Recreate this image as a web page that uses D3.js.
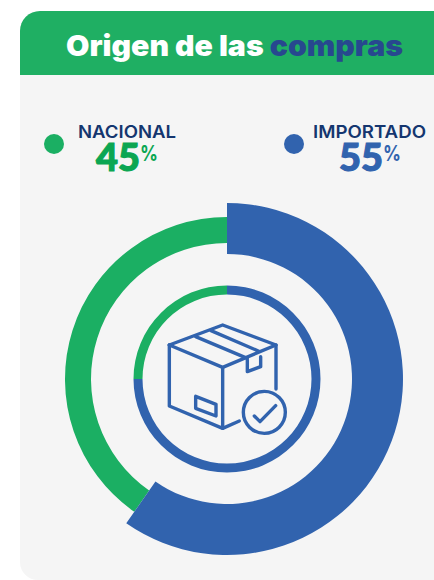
<!DOCTYPE html>
<html><head><meta charset="utf-8">
<script src="https://cdn.jsdelivr.net/npm/d3@7"></script>
<style>html,body{margin:0;padding:0;background:#fff}svg{display:block}text{font-family:Inter,"Open Sans",sans-serif}</style>
</head><body><div id="c"></div>
<script>
const categories = ["NACIONAL","IMPORTADO"];
const labelValues = [45,55];
const outerShares = [40.3,59.7];
const innerShares = [25,75];
const colors = ["#1BAF63","#3163AE"];
const labelColors = ["#0BA652","#3163AE"];

const svg = d3.select("#c").append("svg").attr("width",434).attr("height",580);
const card = d3.path();
card.moveTo(20,31);card.arcTo(20,11,40,11,20);card.lineTo(434,11);card.lineTo(434,580);card.lineTo(38,580);card.arcTo(20,580,20,562,18);card.closePath();
svg.append("path").attr("d",card.toString()).attr("fill","#F5F5F5");
const head = d3.path();
head.moveTo(20,75);head.lineTo(20,31);head.arcTo(20,11,40,11,20);head.lineTo(434,11);head.lineTo(434,75);head.closePath();
svg.append("path").attr("d",head.toString()).attr("fill","#1FAF63");

const title = svg.append("text").attr("x",66).attr("y",56).attr("font-size",29).attr("font-weight",900).attr("textLength",337).attr("lengthAdjust","spacingAndGlyphs");
title.append("tspan").attr("fill","#fff").text("Origen de las ");
title.append("tspan").attr("fill","#27488F").text("compras");

const legX=[54,294], nameX=[127,369.5], nameW=[98,113], valX=[96,339], pctX=[140,383];
categories.forEach((c,i)=>{
  svg.append("circle").attr("cx",legX[i]).attr("cy",144).attr("r",10).attr("fill",colors[i]);
  svg.append("text").attr("x",nameX[i]).attr("y",138).attr("text-anchor","middle").attr("font-size",17.5).attr("font-weight",600).attr("fill","#14366F").attr("textLength",nameW[i]).attr("lengthAdjust","spacingAndGlyphs").text(c);
  svg.append("text").attr("x",valX[i]).attr("y",171).attr("fill",labelColors[i]).attr("stroke",labelColors[i]).attr("stroke-width",1.1).style("font-family","Lato,sans-serif").attr("font-weight",900).attr("font-size",37).attr("textLength",44).attr("lengthAdjust","spacingAndGlyphs").text(labelValues[i]);
  svg.append("text").attr("x",pctX[i]).attr("y",161).attr("fill",labelColors[i]).attr("font-weight",700).attr("font-size",21).attr("textLength",18).attr("lengthAdjust","spacingAndGlyphs").text("%");
});

const g = svg.append("g").attr("transform","translate(227,379)");
const pie = d3.pie().sort(null).startAngle(2*Math.PI).endAngle(0);
const outerArcs = pie(outerShares);
const outerRadii=[[136,162],[125,176]];
g.selectAll(".outer").data(outerArcs).join("path").attr("class","outer")
 .attr("d",(d,i)=>d3.arc().innerRadius(outerRadii[i][0]).outerRadius(outerRadii[i][1])(d))
 .attr("fill",(d,i)=>colors[i]);
const innerArc=d3.arc().innerRadius(84.5).outerRadius(93.5);
g.selectAll(".inner").data(pie(innerShares)).join("path").attr("class","inner").attr("d",innerArc).attr("fill",(d,i)=>colors[i]);

// icon
const ic = svg.append("g").attr("fill","none").attr("stroke","#3163AE").attr("stroke-width",3.4).attr("stroke-linejoin","round").attr("stroke-linecap","round");
const P=(x,y)=>[130+x/3,280+y/3];
const poly=(pts)=>ic.append("path").attr("d",d3.line()(pts.map(p=>P(p[0],p[1]))));
poly([[118,195],[278,135],[438,195],[438,327]]);
poly([[118,195],[278,262],[438,195]]);
poly([[118,195],[118,378],[278,445],[328,423]]);
poly([[278,262],[278,445]]);
poly([[197,170],[352,235]]);
poly([[243,152],[385,213]]);
poly([[352,240],[352,275],[392,260],[392,230]]);
poly([[197,349],[197,385],[258,408],[258,373],[197,349]]);
ic.append("circle").attr("cx",130+403/3).attr("cy",280+397/3).attr("r",21);
poly([[373,408],[390,425],[437,377]]);
</script></body></html>
